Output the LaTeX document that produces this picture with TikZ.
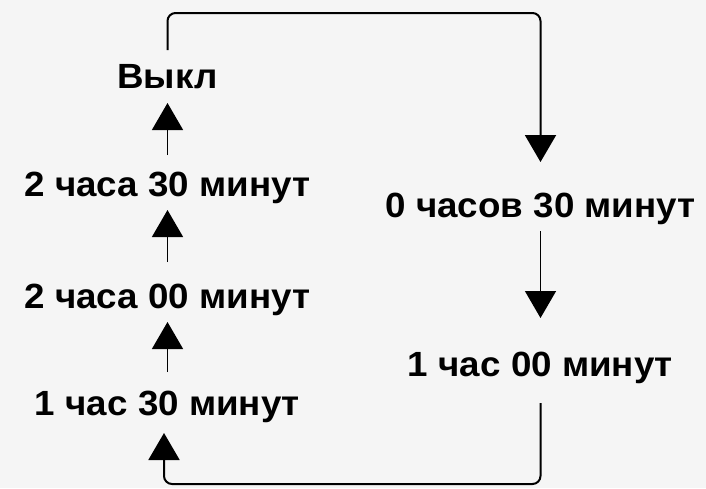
\documentclass[tikz,border=0pt]{standalone}
\usepackage{fontspec}
\setmainfont{Liberation Sans}[FakeStretch=1.05]
\usetikzlibrary{arrows.meta}
\definecolor{bg}{HTML}{F5F5F5}
\tikzset{
  lbl/.style={inner sep=0pt, anchor=base, font=\fontsize{35pt}{42pt}\selectfont\bfseries},
  arr/.style={line width=1.5pt, -{Triangle[length=27pt,width=31pt]}},
  loopline/.style={line width=2pt, rounded corners=8pt, -{Triangle[length=27pt,width=31pt]}}
}
\begin{document}
\begin{tikzpicture}[x=1pt,y=-1pt]
\fill[bg] (0,0) rectangle (706,488);
\useasboundingbox (0,0) rectangle (706,488);
\node[lbl] (n1) at (167.5,88) {Выкл};
\node[lbl] (n2) at (167.5,196) {2 часа 30 минут};
\node[lbl] (n3) at (167.5,308) {2 часа 00 минут};
\node[lbl] (n4) at (167.5,415) {1 час 30 минут};
\node[lbl] (n5) at (540.5,217) {0 часов 30 минут};
\node[lbl] (n6) at (540.5,376) {1 час 00 минут};
\coordinate (top) at (0,13);
\coordinate (bot) at (0,484);
\draw[arr] ([yshift=41pt]n2.base) -- ([yshift=-15pt]n1.base);
\draw[arr] ([yshift=46pt]n3.base) -- ([yshift=-14pt]n2.base);
\draw[arr] ([yshift=43pt]n4.base) -- ([yshift=-14pt]n3.base);
\draw[arr] ([yshift=-14pt]n5.base) -- ([yshift=58pt]n6.base);
\coordinate (t1) at ([yshift=38pt]n1.base);
\coordinate (t5) at ([yshift=55pt]n5.base);
\draw[loopline] (t1) -- (t1 |- top) -| (t5);
\coordinate (r6) at ([yshift=-27pt]n6.base);
\coordinate (l4) at ([xshift=-3.5pt,yshift=-18pt]n4.base);
\draw[loopline] (r6) -- (r6 |- bot) -| (l4);
\end{tikzpicture}
\end{document}
